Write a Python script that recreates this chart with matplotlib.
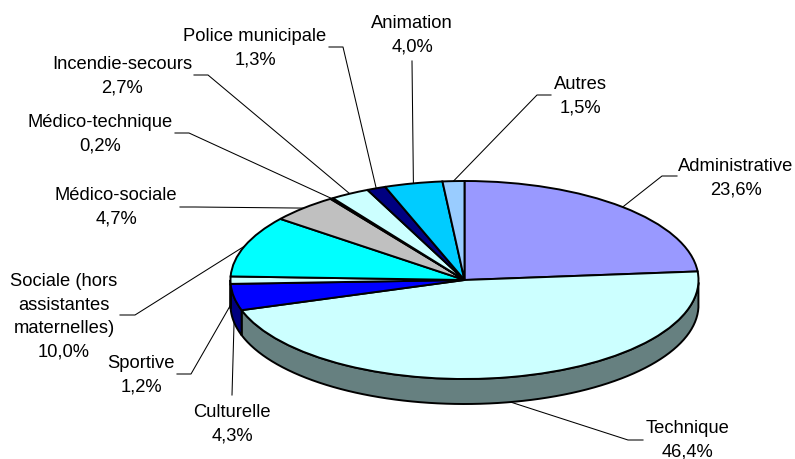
import matplotlib
matplotlib.use("Agg")
import matplotlib.pyplot as plt
import numpy as np
from matplotlib.transforms import Affine2D

plt.rcParams["font.family"] = ["Liberation Sans", "DejaVu Sans"]

categories = [
    "Administrative",
    "Technique",
    "Culturelle",
    "Sportive",
    "Sociale (hors\nassistantes\nmaternelles)",
    "Médico-sociale",
    "Médico-technique",
    "Incendie-secours",
    "Police municipale",
    "Animation",
    "Autres",
]
shares = [23.6, 46.4, 4.3, 1.2, 10.0, 4.7, 0.2, 2.7, 1.3, 4.0, 1.5]
colors = [
    "#9999FF", "#CCFFFF", "#0000FF", "#CCFFFF", "#00FFFF", "#C0C0C0",
    "#000080", "#CCFFFF", "#000080", "#00CCFF", "#99CCFF",
]
side_colors = [
    "#4D4D80", "#668080", "#000080", "#668080", "#008080", "#606060",
    "#000040", "#668080", "#000040", "#006680", "#4D6680",
]

# layout in pixels: label centre, then the leader's elbow and its end by the label
label_pos = [
    (736, 178), (688, 440), (232, 424), (141, 375), (64, 317), (116, 207),
    (100, 134), (122, 76), (255, 48), (412, 35), (580, 96),
]
leader_elbow = [
    (662, 176), (628, 440), None, (191, 374), (135, 315), (195, 207),
    (189, 133), (208, 75), (343, 47), None, (537, 95),
]
leader_end = [
    (677, 176), (643, 440), (232, 395), (177, 374), (120, 315), (180, 207),
    (175, 133), (194, 75), (329, 47), (412, 61), (551, 95),
]

cx, cy, rx, ry, depth = 464.5, 280, 234, 99, 25

fig = plt.figure(figsize=(7.95, 4.59), dpi=100)
ax = fig.add_axes([0, 0, 1, 1])

wedges, _ = ax.pie(
    shares,
    colors=colors,
    startangle=90,
    counterclock=False,
    wedgeprops={"edgecolor": "black", "linewidth": 1.4, "zorder": 3},
)
squash = Affine2D().scale(rx, -ry).translate(cx, cy) + ax.transData
for w in wedges:
    w.set_transform(squash)

ax.set_aspect("auto")
ax.set_xlim(0, 795)
ax.set_ylim(459, 0)
ax.axis("off")

# rim of the disc, only where a slice reaches the front half
for w, side in zip(wedges, side_colors):
    a = np.radians(np.linspace(w.theta1, w.theta2, 80))
    a = a[np.sin(a) <= 0.001]
    if a.size < 2:
        continue
    x = cx + rx * np.cos(a)
    y = cy - ry * np.sin(a)
    ax.fill(
        np.r_[x, x[::-1]],
        np.r_[y, y[::-1] + depth],
        facecolor=side,
        edgecolor="black",
        linewidth=1.4,
        zorder=2,
    )

for w, name, share, pos, elbow, end in zip(
    wedges, categories, shares, label_pos, leader_elbow, leader_end
):
    mid = np.radians((w.theta1 + w.theta2) / 2)
    start_x = cx + rx * np.cos(mid)
    start_y = cy - ry * np.sin(mid)
    if np.sin(mid) < 0:
        start_y += depth
    pts = [(start_x, start_y)]
    if elbow:
        pts.append(elbow)
    pts.append(end)
    ax.plot(*zip(*pts), color="black", linewidth=0.75, zorder=1)
    value = "{:.1f}".format(share).replace(".", ",") + "%"
    ax.text(
        pos[0],
        pos[1],
        name + "\n" + value,
        ha="center",
        va="center",
        ma="center",
        fontsize=13.2,
        linespacing=1.5,
        color="black",
    )

fig.savefig("out.png", dpi=100)
